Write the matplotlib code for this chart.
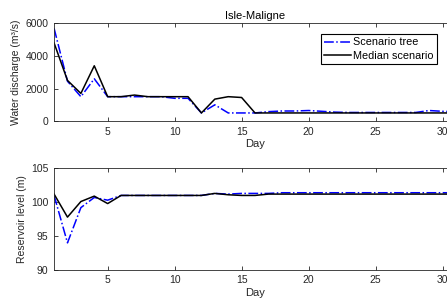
import numpy as np
import matplotlib
matplotlib.use('Agg')
import matplotlib.pyplot as plt

plt.rcParams['font.family'] = ['Liberation Sans', 'DejaVu Sans']
plt.rcParams['font.size'] = 8

# data
days = np.arange(1, 32)
q_tree = [5700, 2450, 1500, 2600, 1500, 1500, 1500, 1500, 1500, 1400, 1400, 500, 1000, 500, 500,
          500, 580, 620, 620, 650, 600, 550, 530, 530, 530, 530, 530, 530, 650, 600, 580]
q_median = [4800, 2500, 1700, 3400, 1500, 1500, 1600, 1500, 1500, 1500, 1500, 500, 1350, 1500, 1450,
            500, 500, 500, 500, 500, 500, 500, 500, 500, 500, 500, 500, 500, 500, 500, 500]
h_tree = [101.0, 94.0, 99.2, 100.7, 100.3, 101.0, 101.0, 101.0, 101.0, 101.0, 101.0, 101.0, 101.3,
          101.2, 101.3, 101.3, 101.3, 101.4, 101.4, 101.4, 101.4, 101.4, 101.4, 101.4, 101.4, 101.4,
          101.4, 101.4, 101.4, 101.4, 101.4]
h_median = [101.2, 97.8, 100.1, 100.9, 99.8, 101.0, 101.0, 101.0, 101.0, 101.0, 101.0, 101.0, 101.3,
            101.1, 101.0, 101.0, 101.2, 101.2, 101.2, 101.2, 101.2, 101.2, 101.2, 101.2, 101.2, 101.2,
            101.2, 101.2, 101.2, 101.2, 101.2]

gray = '#262626'
fig = plt.figure(figsize=(4.47, 3.05), dpi=100)
ax1 = fig.add_axes([0.121, 0.603, 0.899, 0.320])
ax2 = fig.add_axes([0.121, 0.115, 0.899, 0.333])

ax1.plot(days, q_tree, 'b-.', lw=1.1, label='Scenario tree')
ax1.plot(days, q_median, 'k-', lw=1.1, label='Median scenario')
ax1.set_ylim(0, 6000)
ax1.set_yticks([0, 2000, 4000, 6000])
ax1.set_ylabel('Water discharge (m³/s)', labelpad=3, fontsize=7.5)
ax1.set_title('Isle-Maligne', fontsize=8, pad=3)
leg = ax1.legend(loc='upper right', bbox_to_anchor=(0.953, 0.89), borderaxespad=0,
                 fancybox=False, edgecolor='k', framealpha=1, handlelength=2.5,
                 borderpad=0.3, labelspacing=0.3, handletextpad=0.2, fontsize=7.8)
leg.get_frame().set_linewidth(0.8)

ax2.plot(days, h_tree, 'b-.', lw=1.1)
ax2.plot(days, h_median, 'k-', lw=1.1)
ax2.set_ylim(90, 105)
ax2.set_yticks([90, 95, 100, 105])
ax2.set_ylabel('Reservoir level (m)', labelpad=3, fontsize=7.5)

for ax in (ax1, ax2):
    ax.set_xlim(1, 31)
    ax.set_xticks([5, 10, 15, 20, 25, 30])
    ax.set_xlabel('Day', labelpad=2, color=gray, fontsize=8)
    ax.tick_params(direction='in', top=True, right=True, length=3, width=0.6,
                   colors=gray, labelsize=7.5, pad=4)
    for s in ax.spines.values():
        s.set_color(gray)
        s.set_linewidth(0.6)
    ax.yaxis.label.set_color(gray)

plt.savefig('out.png', dpi=100)
